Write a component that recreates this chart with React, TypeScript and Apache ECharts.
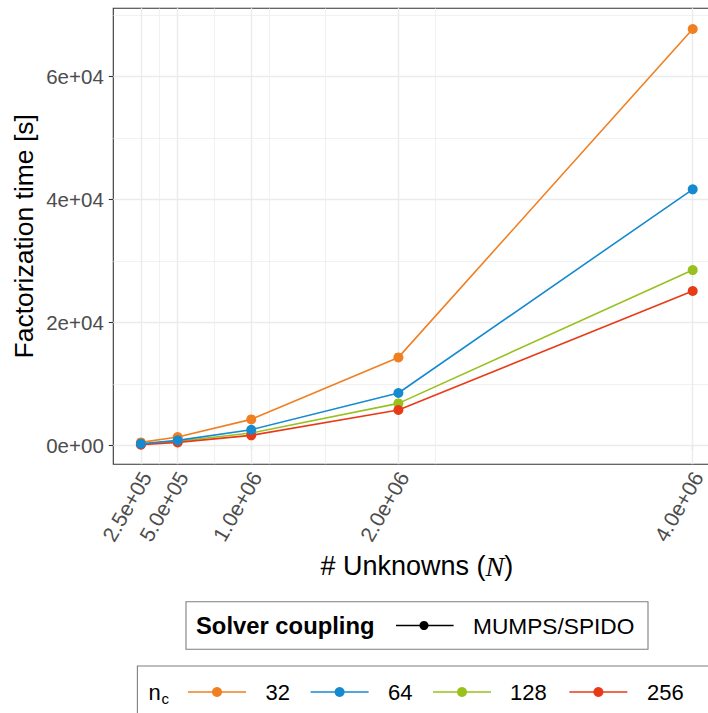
import React, { useEffect, useRef } from "react";
import * as echarts from "echarts";

const xBreaks = [250000, 500000, 1000000, 2000000, 4000000];
const xTickLabels = ["2.5e+05", "5.0e+05", "1.0e+06", "2.0e+06", "4.0e+06"];
const xMinorBreaks = [375000, 750000, 1125000, 1500000, 2250000];
const yBreaks = [0, 20000, 40000, 60000];
const yTickLabels = ["0e+00", "2e+04", "4e+04", "6e+04"];
const yMinorBreaks = [10000, 30000, 50000, 70000];

const ncLabels = ["32", "64", "128", "256"];
const ncColors = ["#F07F22", "#168AD0", "#98C11E", "#E93A17"];
const nc32 = [540, 1410, 4280, 14360, 67750];
const nc64 = [325, 870, 2600, 8570, 41680];
const nc128 = [250, 730, 2060, 6880, 28560];
const nc256 = [160, 540, 1680, 5800, 25150];
const ncValues = [nc32, nc64, nc128, nc256];
const drawOrder = [0, 2, 3, 1];

const FONT = "Liberation Sans, Arial, Helvetica, sans-serif";

export default function App() {
  const ref = useRef<HTMLDivElement>(null);
  useEffect(() => {
    if (!ref.current) return;
    const chart = echarts.init(ref.current, null, { renderer: "svg" });
    const gridMajor = "#EBEBEB";
    const lineSeries = drawOrder.map((i) => ({
      type: "line",
      name: ncLabels[i],
      data: xBreaks.map((x, k) => [x, ncValues[i][k]]),
      symbol: "circle",
      symbolSize: 10,
      showSymbol: true,
      lineStyle: { color: ncColors[i], width: 1.6 },
      itemStyle: { color: ncColors[i] },
      z: 3,
      silent: true,
    }));
    const mk = (arr: number[], key: string, w: number) =>
      arr.map((v) => ({ [key]: v, lineStyle: { color: gridMajor, width: w, type: "solid" } }));
    const gridSeries = {
      type: "line",
      data: [],
      silent: true,
      z: 1,
      markLine: {
        silent: true,
        symbol: ["none", "none"],
        label: { show: false },
        animation: false,
        z: 1,
        data: [
          ...mk(yMinorBreaks, "yAxis", 0.7),
          ...mk(xMinorBreaks, "xAxis", 0.7),
          ...mk(yBreaks, "yAxis", 1.4),
          ...mk(xBreaks, "xAxis", 1.4),
        ],
      },
    };
    const legendText = (text: string, x: number, y: number, size: number, extra: any = {}) => ({
      type: "text",
      x,
      y,
      style: {
        text,
        fontFamily: FONT,
        fontSize: size,
        fill: "#000",
        verticalAlign: "middle",
        align: "left",
        ...extra,
      },
    });
    const ncItems: any[] = [];
    const keyStarts = [188, 310.6, 433, 569.4];
    const labelStarts = [265.5, 388, 510, 647];
    ncLabels.forEach((lab, i) => {
      const x0 = keyStarts[i];
      ncItems.push({
        type: "line",
        shape: { x1: x0, y1: 692, x2: x0 + 58, y2: 692 },
        style: { stroke: ncColors[i], lineWidth: 1.6 },
      });
      ncItems.push({
        type: "circle",
        shape: { cx: x0 + 29, cy: 692, r: 5 },
        style: { fill: ncColors[i] },
      });
      ncItems.push(legendText(lab, labelStarts[i], 692, 22));
    });

    chart.setOption({
      animation: false,
      grid: {
        left: 113.3,
        top: 8.3,
        right: 730 - 720.3,
        bottom: 713 - 464.3,
        show: true,
        borderColor: "#333333",
        borderWidth: 1.1,
        backgroundColor: "transparent",
        containLabel: false,
      },
      xAxis: {
        type: "value",
        min: 62500,
        max: 4187500,
        name: "",
        axisLine: { show: false },
        splitLine: { show: false },
        axisTick: {
          show: true,
          customValues: xBreaks,
          length: 4.5,
          lineStyle: { color: "#333333", width: 1.1 },
        },
        axisLabel: {
          customValues: xBreaks,
          rotate: 60,
          margin: 6,
          verticalAlign: "top",
          lineHeight: 12,
          fontSize: 21,
          fontFamily: FONT,
          color: "#4D4D4D",
          formatter: (v: number) => {
            const i = xBreaks.indexOf(v);
            return i >= 0 ? xTickLabels[i] : "";
          },
        },
      },
      yAxis: {
        type: "value",
        min: -3024,
        max: 71122,
        axisLine: { show: false },
        splitLine: { show: false },
        axisTick: {
          show: true,
          customValues: yBreaks,
          length: 4.5,
          lineStyle: { color: "#333333", width: 1.1 },
        },
        axisLabel: {
          customValues: yBreaks,
          margin: 9.5,
          fontSize: 20.5,
          fontFamily: FONT,
          color: "#4D4D4D",
          formatter: (v: number) => {
            const i = yBreaks.indexOf(v);
            return i >= 0 ? yTickLabels[i] : "";
          },
        },
      },
      series: [gridSeries, ...lineSeries],
      graphic: [
        {
          type: "text",
          x: 24,
          y: 236.3,
          rotation: Math.PI / 2,
          style: {
            text: "Factorization time [s]",
            fontFamily: FONT,
            fontSize: 26.5,
            fill: "#000",
            align: "center",
            verticalAlign: "middle",
          },
        },
        {
          type: "text",
          x: 416.8,
          y: 566,
          style: {
            text: "{a|# Unknowns (}{n|N}{a|)}",
            align: "center",
            verticalAlign: "middle",
            rich: {
              a: { fontFamily: FONT, fontSize: 27, fill: "#000" },
              n: { fontFamily: "Liberation Serif, DejaVu Serif, serif", fontStyle: "italic", fontSize: 28, fill: "#000" },
            },
          },
        },
        {
          type: "rect",
          shape: { x: 186, y: 601.7, width: 462, height: 47.6 },
          style: { fill: "#fff", stroke: "#7F7F7F", lineWidth: 1.1 },
        },
        legendText("Solver coupling", 196, 625.5, 23.8, { fontWeight: "bold" }),
        {
          type: "line",
          shape: { x1: 396, y1: 625.5, x2: 453.6, y2: 625.5 },
          style: { stroke: "#000", lineWidth: 1.6 },
        },
        {
          type: "circle",
          shape: { cx: 424, cy: 625.5, r: 4.5 },
          style: { fill: "#000" },
        },
        legendText("MUMPS/SPIDO", 473, 625.5, 22.7),
        {
          type: "rect",
          shape: { x: 137.4, y: 666, width: 640, height: 60 },
          style: { fill: "#fff", stroke: "#7F7F7F", lineWidth: 1.1 },
        },
        legendText("n", 148.5, 692, 22),
        legendText("c", 161.5, 698, 15),
        ...ncItems,
      ],
    });
    return () => chart.dispose();
  }, []);
  return (
    <div style={{ position: "fixed", left: 0, top: 0, width: 708, height: 713, overflow: "hidden", background: "#fff" }}>
      <div ref={ref} style={{ width: 730, height: 713 }} />
    </div>
  );
}
